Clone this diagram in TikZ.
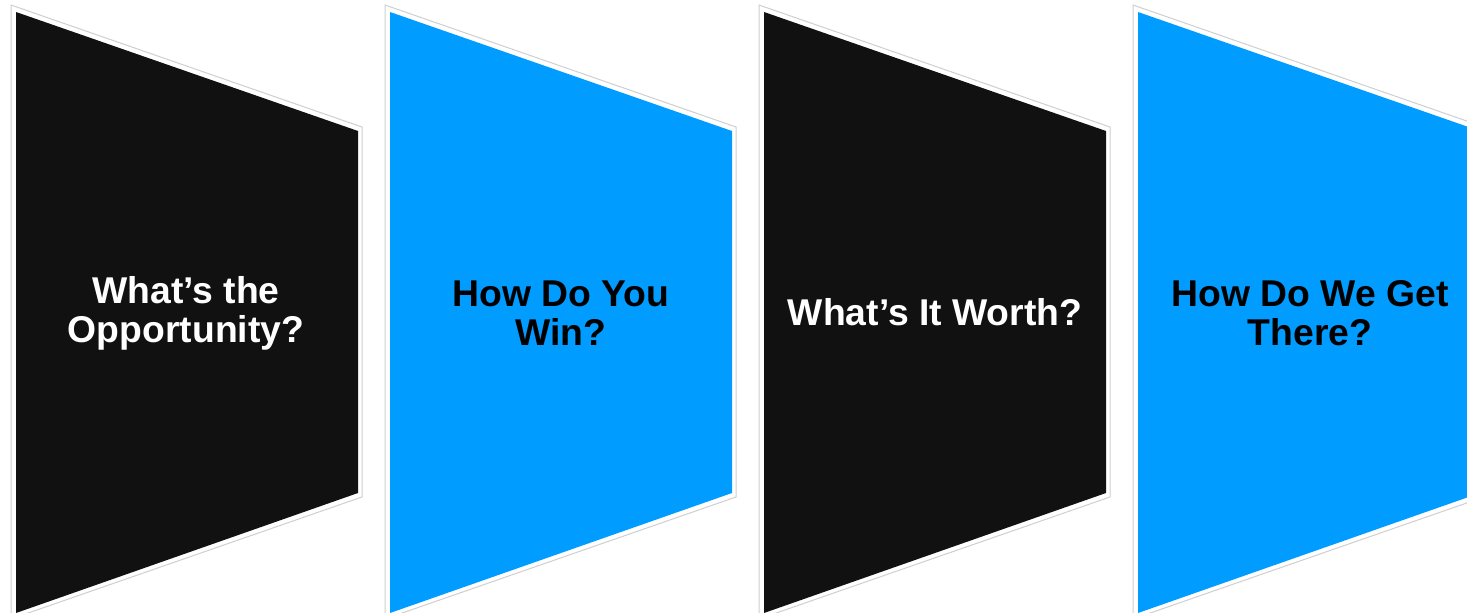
\documentclass[tikz,border=0pt]{standalone}
\usepackage{fontspec}
\setmainfont{Liberation Sans}
\definecolor{panelblack}{HTML}{111111}
\definecolor{panelblue}{HTML}{009CFF}
\definecolor{edgegray}{HTML}{CFCFCF}
\begin{document}
\begin{tikzpicture}[x=1pt,y=-1pt,
  outerframe/.style={draw=edgegray,line width=1pt,fill=white},
  panellabel/.style={align=center,font=\bfseries\fontsize{37.3}{39}\selectfont,inner sep=0pt}]
\useasboundingbox (0,0) rectangle (1467,613);
\begin{scope}
\clip (0,0) rectangle (1467,613);
\foreach \k/\col in {0/panelblack,1/panelblue,2/panelblack,3/panelblue}{
  \pgfmathsetmacro{\xl}{16+374*\k}
  \pgfmathsetmacro{\xr}{358+374*\k}
  \path[outerframe] (\xl-5,5) -- (\xr+4,127) -- (\xr+4,497) -- (\xl-5,619) -- cycle;
  \fill[\col] (\xl,12) -- (\xr,131) -- (\xr,493) -- (\xl,613) -- cycle;
}
\end{scope}
\node[panellabel,text=white] (t1) at (186,313) {What’s the\\Opportunity?};
\node[panellabel,text=black] (t2) at (561,313) {How Do You\\Win?};
\node[panellabel,text=white] (t3) at (935,312) {What’s It Worth?};
\node[panellabel,text=black] (t4) at (1310,313) {How Do We Get\\There?};
\end{tikzpicture}
\end{document}
